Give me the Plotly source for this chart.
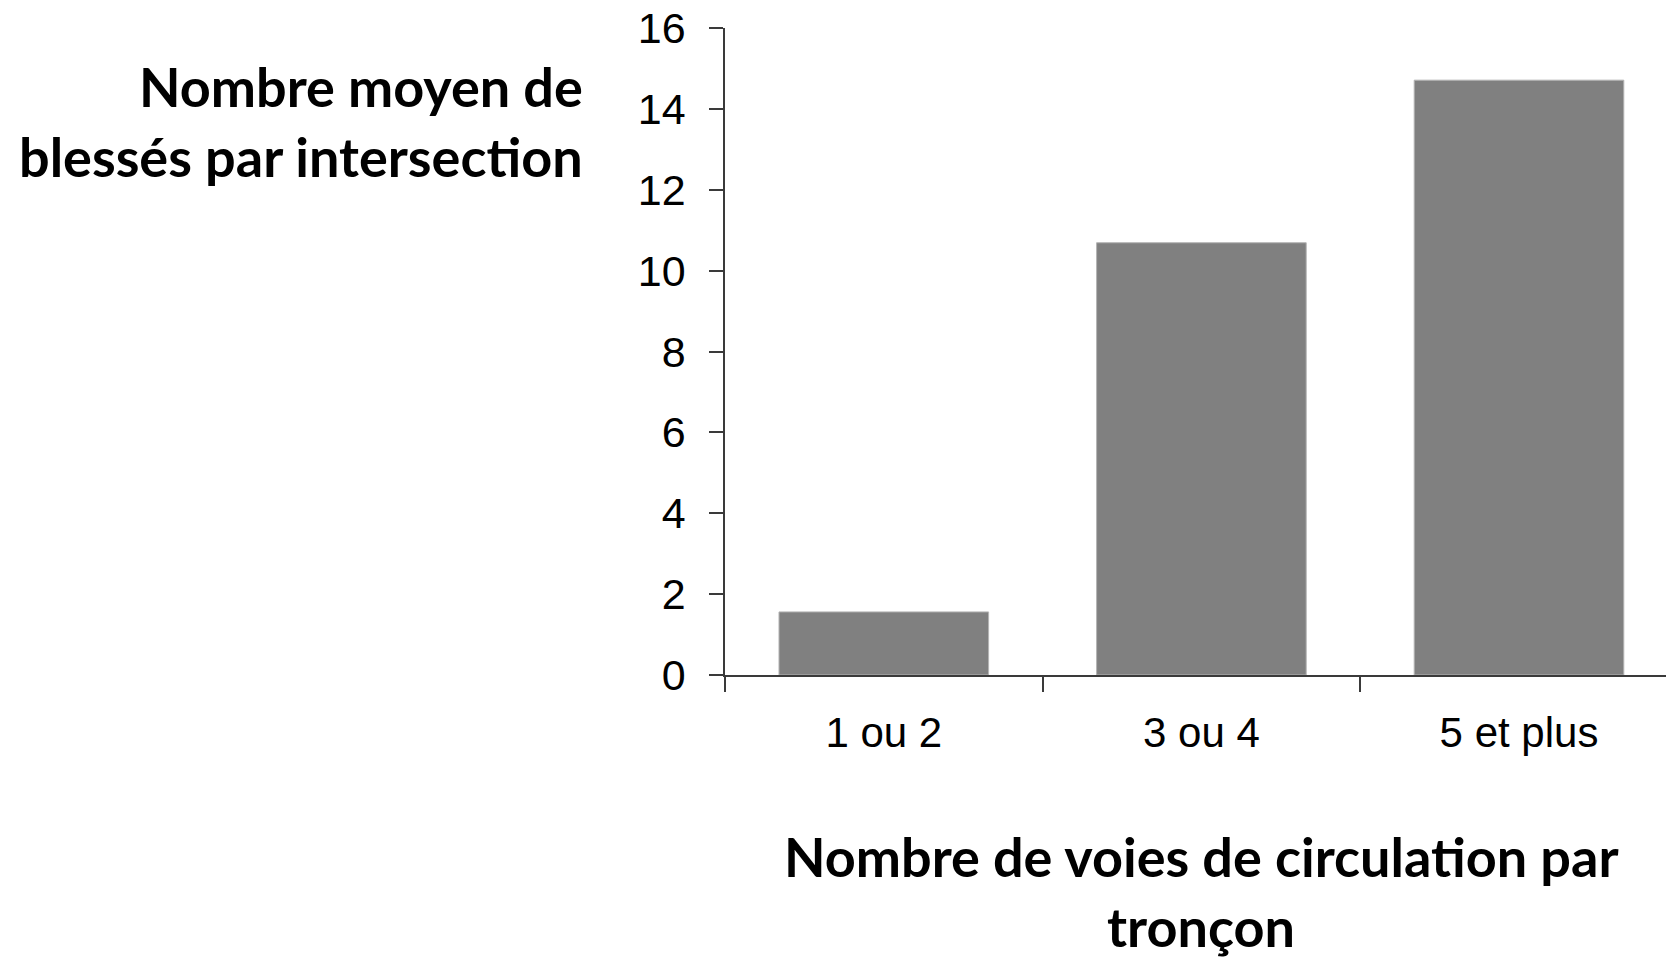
import plotly.graph_objects as go

categories = ["1 ou 2", "3 ou 4", "5 et plus"]
values = [1.56, 10.69, 14.71]
y_ticks = [0, 2, 4, 6, 8, 10, 12, 14, 16]

y_title_lines = ["Nombre moyen de", "blessés par intersection"]
x_title_lines = ["Nombre de voies de circulation par", "tronçon"]

W, H = 1666, 958
L, R, T, B = 725, 0, 28, 283

fig = go.Figure()
fig.add_trace(go.Bar(
    x=categories, y=values,
    marker=dict(color="#808080", line=dict(color="#b4b4b4", width=1)),
    width=0.66,
))

fig.update_layout(
    width=W, height=H,
    margin=dict(l=L, r=R, t=T, b=B, pad=0),
    plot_bgcolor="white", paper_bgcolor="white",
    showlegend=False,
    font=dict(family="Liberation Sans, Arial", size=42, color="black"),
)
fig.update_xaxes(
    range=[-0.5, -0.5 + (W - L) / 317.6],
    showgrid=False, zeroline=False,
    showline=True, linecolor="#3a3a3a", linewidth=1.5,
    ticks="outside", ticklen=15, tickwidth=1.5, tickcolor="#3a3a3a",
    tickson="boundaries",
    tickfont=dict(family="Liberation Sans, Arial", size=42, color="black"),
    ticklabelstandoff=20,
)
fig.update_yaxes(
    range=[0, 16], tickvals=y_ticks,
    showgrid=False, zeroline=False,
    showline=True, linecolor="#3a3a3a", linewidth=1.5,
    ticks="outside", ticklen=14, tickwidth=1.5, tickcolor="#3a3a3a",
    tickfont=dict(family="Liberation Sans, Arial", size=43, color="black"),
    ticklabelstandoff=15,
)

plot_w = W - L - R
plot_h = H - T - B
title_font = dict(family="Lato", size=54, color="black")


def py(px):
    return 1 - (px - T) / plot_h


for line, cy in zip(y_title_lines, [86, 156]):
    fig.add_annotation(
        text="<b>" + line + "</b>", xref="paper", yref="paper",
        x=(585 - L) / plot_w, y=py(cy),
        xanchor="right", yanchor="middle", showarrow=False,
        font=title_font,
    )
for line, cy in zip(x_title_lines, [856, 926]):
    fig.add_annotation(
        text="<b>" + line + "</b>", xref="x", yref="paper",
        x=1, y=py(cy),
        xanchor="center", yanchor="middle", showarrow=False,
        font=title_font,
    )

fig.write_html("out.html", config={"displayModeBar": False},
               post_script="document.body.style.margin='0';")
